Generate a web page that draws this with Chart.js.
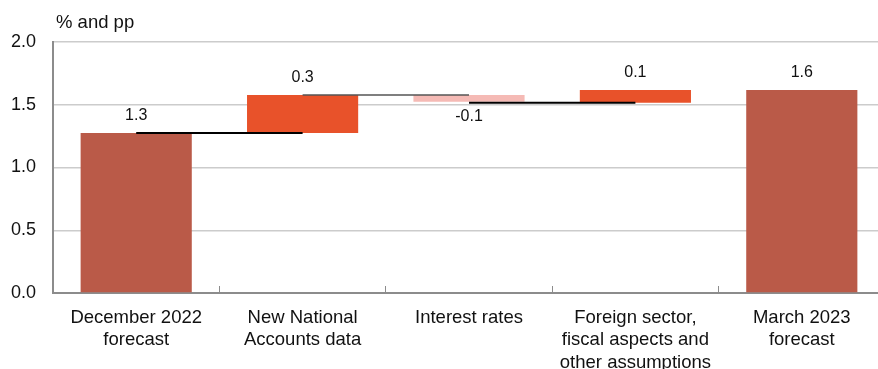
<!DOCTYPE html>
<html>
<head>
<meta charset="utf-8">
<script src="https://cdn.jsdelivr.net/npm/chart.js@4"></script>
<style>
html,body{margin:0;padding:0;background:#fff;overflow:hidden;width:878px;height:369px;}
#wrap{position:absolute;left:0;top:0;width:886px;height:369px;}
</style>
</head>
<body>
<div id="wrap"><canvas id="c" width="886" height="369"></canvas></div>
<script>
// ---- data ----
const categories = ['December 2022 forecast','New National Accounts data','Interest rates','Foreign sector, fiscal aspects and other assumptions','March 2023 forecast'];
const categoryLines = [['December 2022','forecast'],['New National','Accounts data'],['Interest rates'],['Foreign sector,','fiscal aspects and','other assumptions'],['March 2023','forecast']];
const barStart = [0, 1.275, 1.578, 1.516, 0];
const barEnd   = [1.275, 1.578, 1.524, 1.618, 1.618];
const valueLabels = ['1.3','0.3','-0.1','0.1','1.6'];
const barColors = ['#BA5A48','#E8522A','#F5BAB5','#E8522A','#BA5A48'];
const connectorLevels = [1.275, 1.578, 1.516];
const connectorColors = ['#000000','#555555','#000000'];
const yTicks = [0, 0.5, 1.0, 1.5, 2.0];
const unitLabel = '% and pp';

const FONT = '"Liberation Sans", Arial, Helvetica, sans-serif';

const datasets = [{
  type: 'bar',
  data: barStart.map((s, i) => [s, barEnd[i]]),
  backgroundColor: barColors,
  borderWidth: 0,
  barPercentage: 0.668,
  categoryPercentage: 1.0,
  order: 2
}];
connectorLevels.forEach((lv, i) => {
  datasets.push({
    type: 'line',
    data: [{x: categories[i], y: lv}, {x: categories[i+1], y: lv}],
    borderColor: connectorColors[i],
    borderWidth: i === 1 ? 1.5 : 2,
    pointRadius: 0,
    fill: false,
    order: 1
  });
});

const labelPlugin = {
  id: 'labels',
  afterDatasetsDraw(chart) {
    const ctx = chart.ctx;
    const meta = chart.getDatasetMeta(0);
    ctx.save();
    ctx.font = '16px ' + FONT;
    ctx.fillStyle = '#111';
    ctx.textAlign = 'center';
    ctx.textBaseline = 'middle';
    meta.data.forEach((el, i) => {
      const up = barEnd[i] >= barStart[i];
      const top = Math.min(el.y, el.base);
      const bottom = Math.max(el.y, el.base);
      const y = up ? top - 17 : bottom + 15;
      ctx.fillText(valueLabels[i], el.x, y);
    });
    ctx.restore();
  },
  beforeDraw(chart) {
    const ctx = chart.ctx;
    ctx.save();
    ctx.font = '18.5px ' + FONT;
    ctx.fillStyle = '#111';
    ctx.textAlign = 'left';
    ctx.textBaseline = 'alphabetic';
    ctx.fillText(unitLabel, chart.chartArea.left + 3, 28);
    ctx.restore();
  }
};

new Chart(document.getElementById('c'), {
  data: { labels: categories, datasets },
  options: {
    responsive: false,
    animation: false,
    layout: { padding: { top: 42, right: 1, bottom: 0, left: 0 } },
    plugins: { legend: { display: false }, tooltip: { enabled: false }, title: { display: false } },
    scales: {
      x: {
        type: 'category',
        offset: true,
        grid: { offset: true, drawOnChartArea: false, drawTicks: true, tickLength: -7, color: '#8c8c8c', lineWidth: 1 },
        border: { display: true, color: '#8c8c8c', width: 2 },
        ticks: {
          color: '#111',
          font: { family: FONT, size: 18.5, lineHeight: 1.2 },
          padding: 21,
          maxRotation: 0,
          autoSkip: false,
          callback: (v, i) => categoryLines[i]
        },
        afterFit(s) { s.height = 76; }
      },
      y: {
        min: 0, max: 2,
        afterBuildTicks(s) { s.ticks = yTicks.map(v => ({value: v})); },
        grid: { color: '#cccccc', lineWidth: 1.5, drawTicks: false },
        border: { display: true, color: '#8c8c8c', width: 2 },
        ticks: {
          color: '#111',
          font: { family: FONT, size: 18 },
          padding: 17,
          callback: v => Number(v).toFixed(1)
        },
        afterFit(s) { s.width = 53; }
      }
    }
  },
  plugins: [labelPlugin]
});
</script>
</body>
</html>
